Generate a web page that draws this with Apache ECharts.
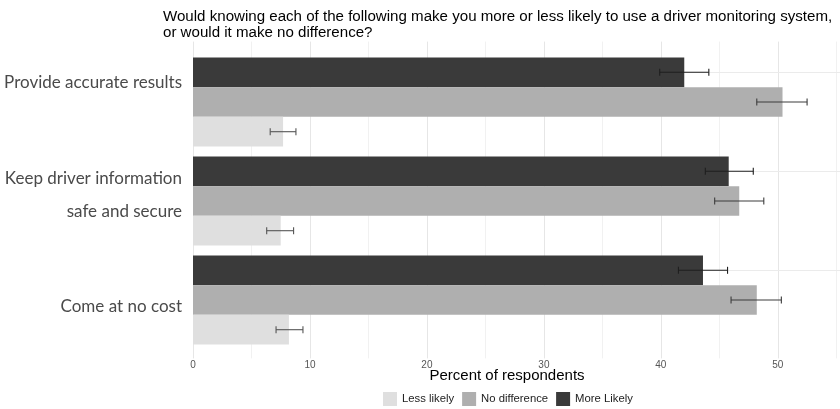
<!DOCTYPE html>
<html>
<head>
<meta charset="utf-8">
<script src="https://cdn.jsdelivr.net/npm/echarts/dist/echarts.min.js"></script>
<style>
  html, body { margin: 0; padding: 0; background: #fff; }
  #chart { width: 840px; height: 409px; }
</style>
</head>
<body>
<div id="chart"></div>
<script>
// values (percent of respondents)
const categories = [
  "Provide accurate results",
  "Keep driver information\nsafe and secure",
  "Come at no cost"
];
const seriesNames = ["More Likely", "No difference", "Less likely"];
const moreLikely = [42.0, 45.8, 43.6];
const noDifference = [50.4, 46.7, 48.2];
const lessLikely = [7.7, 7.5, 8.2];
// error bar ends [low, high]
const moreLikelyErr = [[39.9, 44.1], [43.8, 47.9], [41.5, 45.7]];
const noDifferenceErr = [[48.2, 52.5], [44.6, 48.8], [46.0, 50.3]];
const lessLikelyErr = [[6.6, 8.8], [6.3, 8.6], [7.1, 9.4]];

const barColors = ["#3a3a3a", "#afafaf", "#dfdfdf"];
const errColors = ["#1f1f1f", "#3c3c3c", "#555555"];
const axisMax = 55.4;
// the category labels in the source sit a little off their band centres
const labelPadding = [[0, 0, 38, 0], [0, 0, 12, 0], [13, 0, 0, 0]];

const chart = echarts.init(document.getElementById("chart"));

const errData = [];
[moreLikelyErr, noDifferenceErr, lessLikelyErr].forEach((arr, k) => {
  arr.forEach((e, i) => errData.push([e[0], e[1], i, k]));
});

function renderErr(params, api) {
  const cat = api.value(2);
  const k = api.value(3);
  const lo = api.coord([api.value(0), cat]);
  const hi = api.coord([api.value(1), cat]);
  const band = api.size([0, 1])[1];
  const y = lo[1] + (k - 1) * band * 0.3;
  const cap = 3.5;
  const style = { stroke: errColors[k], lineWidth: 1.1 };
  return {
    type: "group",
    children: [
      { type: "line", shape: { x1: lo[0], y1: y, x2: hi[0], y2: y }, style },
      { type: "line", shape: { x1: lo[0], y1: y - cap, x2: lo[0], y2: y + cap }, style },
      { type: "line", shape: { x1: hi[0], y1: y - cap, x2: hi[0], y2: y + cap }, style }
    ]
  };
}

const labelFont = {
  fontSize: 17,
  lineHeight: 33,
  color: "#4a4a4a",
  fontFamily: "Lato, sans-serif"
};
const labelRich = {};
labelPadding.forEach((p, i) => {
  labelRich["p" + i] = Object.assign({ padding: p }, labelFont);
});

function labelFormatter(value, index) {
  return value
    .split("\n")
    .map(l => "{p" + index + "|" + l + "}")
    .join("\n");
}

const option = {
  animation: false,
  backgroundColor: "#fff",
  title: {
    text: "Would knowing each of the following make you more or less likely to use a driver monitoring system,\nor would it make no difference?",
    left: 158,
    top: 4,
    textStyle: {
      fontFamily: "Liberation Sans, Arial, sans-serif",
      fontSize: 15.1,
      fontWeight: "normal",
      color: "#000",
      lineHeight: 16
    }
  },
  legend: {
    data: ["Less likely", "No difference", "More Likely"],
    left: 378,
    top: 387,
    icon: "rect",
    itemWidth: 14,
    itemHeight: 14,
    itemGap: 8,
    selectedMode: false,
    textStyle: {
      fontFamily: "Liberation Sans, Arial, sans-serif",
      fontSize: 11.3,
      color: "#222"
    }
  },
  grid: [
    { left: 193, width: 648, top: 41.6, bottom: 50.6, outerBoundsMode: "none", containLabel: false },
    { left: 193, width: 648, top: 52.5, height: 297, outerBoundsMode: "none", containLabel: false }
  ],
  xAxis: [
    {
      gridIndex: 0,
      type: "value",
      min: 0,
      max: axisMax,
      interval: 5,
      name: "Percent of respondents",
      nameLocation: "middle",
      nameGap: 10,
      nameMoveOverlap: false,
      nameTextStyle: {
        fontFamily: "Liberation Sans, Arial, sans-serif",
        fontSize: 15,
        color: "#000",
        padding: [0, 20, 0, 0]
      },
      axisLine: { show: false },
      axisTick: { show: false },
      axisLabel: {
        margin: 2,
        fontSize: 10,
        color: "#555",
        fontFamily: "Liberation Sans, Arial, sans-serif",
        formatter: v => (v % 10 === 0 ? String(v) : "")
      },
      splitLine: {
        show: true,
        lineStyle: { color: ["#e6e6e6", "#f1f1f1"], width: 1 }
      }
    },
    {
      gridIndex: 1,
      type: "value",
      min: 0,
      max: axisMax,
      show: false
    }
  ],
  yAxis: [
    { gridIndex: 0, type: "value", min: 0, max: 1, show: false },
    {
      gridIndex: 1,
      type: "category",
      data: categories,
      inverse: true,
      axisLine: { show: false },
      axisTick: { show: false },
      splitLine: { show: false },
      axisLabel: Object.assign({
        margin: 11,
        formatter: labelFormatter,
        rich: labelRich
      }, labelFont)
    }
  ],
  series: [
    {
      name: seriesNames[0],
      type: "bar",
      xAxisIndex: 1,
      yAxisIndex: 1,
      data: moreLikely,
      barGap: "0%",
      barCategoryGap: "10%",
      itemStyle: { color: barColors[0] },
      z: 2,
      markLine: {
        silent: true,
        symbol: "none",
        z: 1,
        label: { show: false },
        lineStyle: { color: "#ebebeb", width: 1, type: "solid" },
        data: [{ yAxis: 0 }, { yAxis: 1 }, { yAxis: 2 }]
      }
    },
    {
      name: seriesNames[1],
      type: "bar",
      xAxisIndex: 1,
      yAxisIndex: 1,
      data: noDifference,
      barGap: "0%",
      barCategoryGap: "10%",
      itemStyle: { color: barColors[1] },
      z: 2
    },
    {
      name: seriesNames[2],
      type: "bar",
      xAxisIndex: 1,
      yAxisIndex: 1,
      data: lessLikely,
      barGap: "0%",
      barCategoryGap: "10%",
      itemStyle: { color: barColors[2] },
      z: 2
    },
    {
      name: "error",
      type: "custom",
      xAxisIndex: 1,
      yAxisIndex: 1,
      renderItem: renderErr,
      data: errData,
      encode: { x: [0, 1], y: 2 },
      silent: true,
      z: 5
    }
  ]
};

chart.setOption(option);
</script>
</body>
</html>
